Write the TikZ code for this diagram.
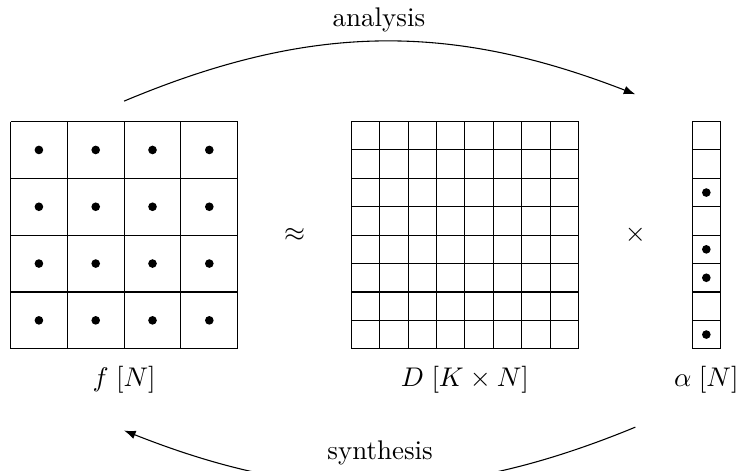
\documentclass[tikz,border=0pt]{standalone}
\usepackage{tikz}
\usetikzlibrary{arrows.meta, positioning}

\begin{document}
\begin{tikzpicture}[
    x=0.74cm, y=0.74cm,
    busur/.style={-{Latex[length=1.5mm]}},
    titik/.style={fill=black}
  ]
    \clip (-0.185,-6.135) rectangle (12.79,2.14);

    \foreach \k in {0,...,4} {
      \draw (\k,0) -- (\k,-4);
      \draw (0,-\k) -- (4,-\k);
    }
    \foreach \k in {0,...,8} {
      \draw (6+\k/2,0) -- (6+\k/2,-4);
      \draw (6,-\k/2) -- (10,-\k/2);
    }
    \draw (12,0) rectangle (12.5,-4);
    \foreach \k in {1,...,7}
      \draw (12,-\k/2) -- (12.5,-\k/2);

    \foreach \i in {0.5,1.5,2.5,3.5}
      \foreach \j in {0.5,1.5,2.5,3.5}
        \fill[titik] (\i,-\j) circle (1.6pt);
    \foreach \j in {1.25,2.25,2.75,3.75}
      \fill[titik] (12.25,-\j) circle (1.6pt);

    \node (approx) at (5,-2) {$\approx$};
    \node (kali) at (11,-2) {$\times$};
    \node (sinyal) at (2,-4.55) {$f\;[N]$};
    \node (kamus) at (8,-4.55) {$D\;[K\times N]$};
    \node (koef) at (12.25,-4.55) {$\alpha\;[N]$};

    \coordinate (fAtas) at (2,0.36);
    \coordinate (aAtas) at (11,0.48);
    \coordinate (fBawah) at (2,-5.44);
    \coordinate (aBawah) at (11,-5.38);

    \draw[busur] (fAtas) to[bend left=22] node[above] (analisis) {analysis} (aAtas);
    \draw[busur] (aBawah) to[bend left=22] node[above=4pt] (sintesis) {synthesis} (fBawah);
\end{tikzpicture}
\end{document}
